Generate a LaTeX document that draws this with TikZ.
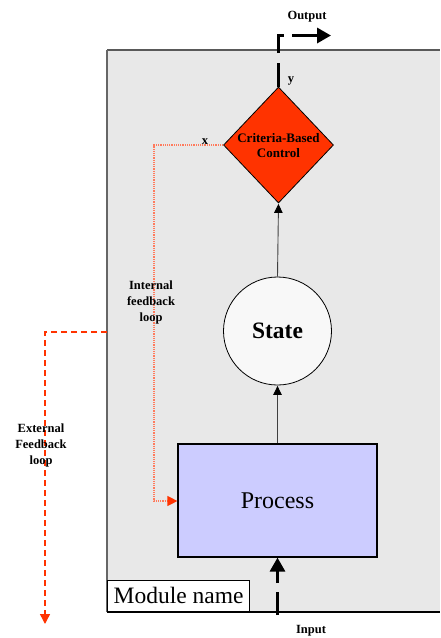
\documentclass[tikz,border=0pt]{standalone}
\usepackage{fontspec}
\setmainfont{Liberation Serif}
\usetikzlibrary{arrows.meta,shapes.geometric}
\definecolor{modfill}{HTML}{E8E8E8}
\definecolor{procfill}{HTML}{CCCCFF}
\definecolor{ctrlfill}{HTML}{FF3300}
\definecolor{statefill}{HTML}{F8F8F8}
\definecolor{loopred}{HTML}{FF3300}
\definecolor{loopsalmon}{HTML}{FF7A5C}
\tikzset{
  lbl/.style={font=\fontsize{12.5}{16}\selectfont\bfseries, align=center, inner sep=0pt},
  flow/.style={draw=black!75, line width=0.9pt, -{Triangle[length=9pt,width=8.5pt,color=black]}, shorten >=0.5pt},
  bigarrow/.style={line width=3.3pt, -{Triangle[length=14pt,width=15pt]}},
}
\begin{document}
\begin{tikzpicture}[x=1pt,y=-1pt]
\useasboundingbox (0,0) rectangle (440,638);

% module frame (open on the right)
\fill[modfill] (107,50) rectangle (440,612);
\coordinate (mtl) at (107,50);
\coordinate (mtr) at (440,50);
\coordinate (mbl) at (107,612);
\coordinate (mbr) at (440,612);
\coordinate (mleft) at (107,332);
\draw[black!65, line width=2.2pt] (mtl) -- (mtr);
\draw[black!60, line width=1.4pt] (mtl) -- (mbl);
\draw[black, line width=1.6pt] (mbl) -- (mbr);

% module name tag
\node[draw=black, line width=1.1pt, fill=white, anchor=south west, minimum width=142pt,
      minimum height=31pt, inner sep=0pt, font=\fontsize{23.5}{24}\selectfont]
      (mname) at (107,612) {Module name};

% blocks
\node[draw=black, line width=1.2pt, fill=procfill, minimum width=199pt, minimum height=113pt,
      inner sep=0pt, font=\fontsize{24}{26}\selectfont] (proc) at (277.5,500.5) {Process};
\node[draw=black, line width=0.8pt, fill=statefill, circle, minimum size=108pt, inner sep=0pt,
      font=\fontsize{23.5}{26}\selectfont\bfseries] (state) at (277.5,331) {State};
\node[draw=black, line width=0.8pt, fill=ctrlfill, diamond, minimum width=110pt,
      minimum height=116pt, inner sep=0pt] (ctrl) at (278.5,145) {};
\node[font=\fontsize{13}{15}\selectfont\bfseries, align=center, inner sep=0pt]
      (ctrltext) at (278.5,146) {Criteria-Based\\Control};

% main flow
\draw[flow] (proc.north) -- (state.south);
\draw[flow] (state.north) -- (ctrl.south);

% output
\coordinate (o1) at (278.5,63);
\coordinate (o2) at (278.5,53);
\coordinate (o3) at (278.5,35.5);
\coordinate (o4) at (283.5,35.5);
\coordinate (oa) at (292,35.5);
\coordinate (ob) at (331,35.5);
\draw[line width=2.7pt] (ctrl.north) -- (o1);
\draw[line width=2.7pt] (o2) -- (o3) -- (o4);
\draw[bigarrow] (oa) -- (ob);
\node[lbl] (outlbl) at (307,17) {Output};
\node[lbl] (ylbl) at (291,81) {y};

% input
\coordinate (inb) at (277.5,615);
\draw[bigarrow, line width=3pt, dash pattern=on 23pt off 9pt] (inb) -- (proc.south);
\node[lbl] (inlbl) at (311,631) {Input};

% internal feedback loop
\coordinate (i1) at (154,145);
\coordinate (i2) at (154,501);
\draw[loopsalmon, line width=1.2pt, dash pattern=on 1.2pt off 1pt,
      -{Triangle[length=10pt,width=10pt,fill=loopred,color=loopred]}]
  (ctrl.west) -- (i1) -- (i2) -- (proc.west |- i2);
\node[lbl] (xlbl) at (205,142) {x};
\node[lbl] (intlbl) at (151,302) {Internal\\feedback\\loop};

% external feedback loop
\coordinate (e1) at (45,332);
\coordinate (e2) at (45,624);
\draw[loopred, line width=1.4pt, dash pattern=on 6pt off 4pt, -{Triangle[length=10pt,width=10pt]}]
  (mleft) -- (e1) -- (e2);
\node[lbl] (extlbl) at (41,445) {External\\Feedback\\loop};
\end{tikzpicture}
\end{document}
